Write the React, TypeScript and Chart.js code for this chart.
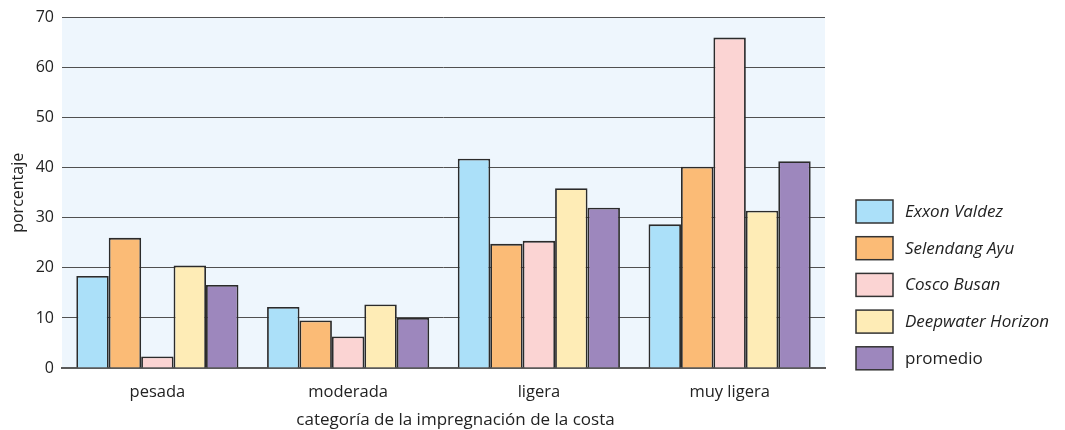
import React, { useEffect, useRef } from "react";
import { Chart, registerables } from "chart.js";

Chart.register(...registerables);

const categories = ["pesada", "moderada", "ligera", "muy ligera"];
const seriesNames = ["Exxon Valdez", "Selendang Ayu", "Cosco Busan", "Deepwater Horizon", "promedio"];
const exxonValdez = [18.4, 12.2, 41.8, 28.7];
const selendangAyu = [26.0, 9.5, 24.8, 40.2];
const coscoBusan = [2.3, 6.3, 25.4, 66.0];
const deepwaterHorizon = [20.5, 12.7, 35.9, 31.4];
const promedio = [16.6, 10.0, 32.0, 41.3];
const italicNames = [true, true, true, true, false];
const yTicks = [0, 10, 20, 30, 40, 50, 60, 70];
const xTitle = "categoría de la impregnación de la costa";

const colors = ["#abe0f9", "#fbbb76", "#fbd4d3", "#feecb6", "#9d87bd"];
const FONT = '"Open Sans", "Noto Sans", sans-serif';

export default function App() {
  const ref = useRef<HTMLCanvasElement>(null);
  useEffect(() => {
    document.body.style.margin = "0";
    const values = [exxonValdez, selendangAyu, coscoBusan, deepwaterHorizon, promedio];
    const bgPlugin = {
      id: "bg",
      beforeDraw(chart: any) {
        const { ctx, chartArea } = chart;
        ctx.save();
        ctx.fillStyle = "#eef6fd";
        ctx.fillRect(chartArea.left, chartArea.top, chartArea.right - chartArea.left, chartArea.bottom - chartArea.top);
        ctx.restore();
      },
    };
    const legendPlugin = {
      id: "customLegend",
      afterDraw(chart: any) {
        const { ctx, chartArea } = chart;
        ctx.save();
        // x-axis title, slightly right of the plot centre as in the reference
        ctx.fillStyle = "#222";
        ctx.font = "17px " + FONT;
        ctx.textAlign = "center";
        ctx.textBaseline = "middle";
        ctx.fillText(xTitle, (chartArea.left + chartArea.right) / 2 + 12, 420);

        const x0 = 856;
        const y0 = 200;
        const step = 36.7;
        seriesNames.forEach((name, i) => {
          const y = y0 + i * step;
          ctx.fillStyle = colors[i];
          ctx.fillRect(x0, y, 37, 23);
          ctx.strokeStyle = "#333";
          ctx.lineWidth = 1.5;
          ctx.strokeRect(x0, y, 37, 23);
          ctx.fillStyle = "#222";
          ctx.font = (italicNames[i] ? "italic " : "") + "17px " + FONT;
          ctx.textBaseline = "middle";
          ctx.textAlign = "left";
          ctx.fillText(name, x0 + 49, y + 12);
        });
        ctx.restore();
      },
    };
    const chart = new Chart(ref.current as HTMLCanvasElement, {
      type: "bar",
      data: {
        labels: categories,
        datasets: seriesNames.map((name, i) => ({
          label: name,
          data: values[i],
          backgroundColor: colors[i],
          borderColor: "#2b2b2b",
          borderWidth: 1.8,
          categoryPercentage: 0.85,
          barPercentage: 1,
        })),
      },
      options: {
        animation: false,
        responsive: false,
        maintainAspectRatio: false,
        layout: { padding: { top: 8, right: 240, left: 0, bottom: 0 } },
        plugins: { legend: { display: false }, tooltip: { enabled: false } },
        scales: {
          x: {
            grid: { display: false },
            border: { color: "#5a5a5a", width: 2 },
            ticks: { color: "#222", font: { family: FONT, size: 16.5 }, padding: 6 },
            title: { display: false },
            afterFit(scale: any) {
              scale.height = 62;
            },
          },
          y: {
            min: 0,
            max: 70,
            afterBuildTicks(scale: any) {
              scale.ticks = yTicks.map((v) => ({ value: v }));
            },
            grid: { color: "#505050", lineWidth: 1, drawTicks: false },
            border: { display: false },
            ticks: { color: "#222", font: { family: FONT, size: 16 }, padding: 8 },
            title: {
              display: true,
              text: "porcentaje",
              color: "#222",
              font: { family: FONT, size: 16 },
              padding: { top: 9, bottom: 6 },
            },
            afterFit(scale: any) {
              scale.width = 62;
            },
          },
        },
      },
      plugins: [bgPlugin, legendPlugin],
    });
    return () => chart.destroy();
  }, []);
  return <canvas ref={ref} width={1065} height={430} style={{ display: "block" }} />;
}
